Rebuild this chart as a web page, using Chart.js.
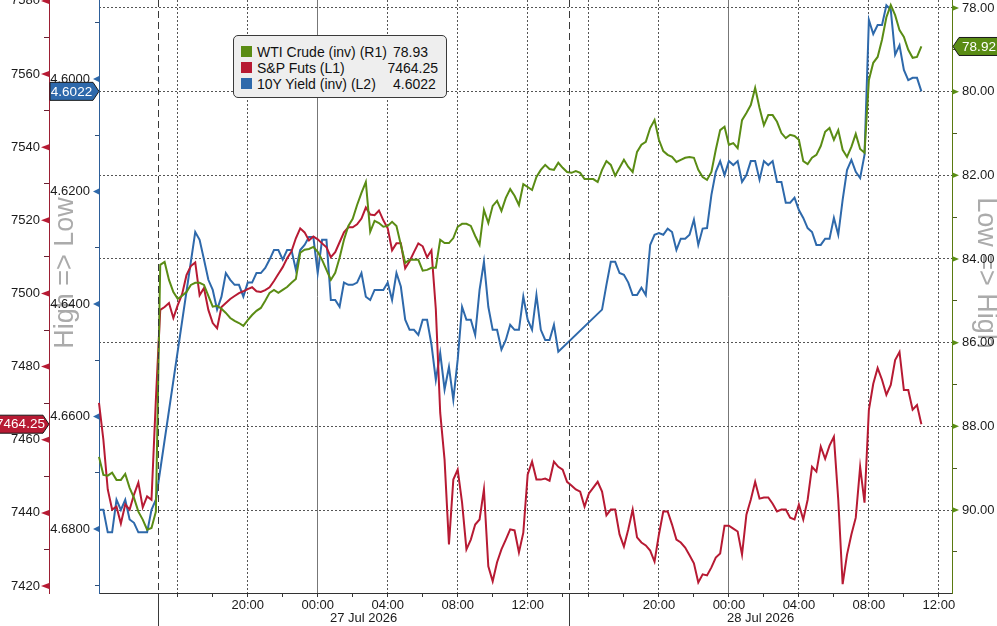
<!DOCTYPE html>
<html>
<head>
<meta charset="utf-8">
<title>WTI, S&amp;P futures and 10Y yield</title>
<script src="https://cdn.jsdelivr.net/npm/chart.js@4.4.1/dist/chart.umd.min.js"></script>
<style>
  html, body { margin: 0; padding: 0; background: #fff; overflow: hidden; }
  #wrap { position: relative; width: 997px; height: 626px; }
  #legend {
    position: absolute; left: 233px; top: 35px; width: 214px; height: 63px;
    box-sizing: border-box; background: #eeeeee; border: 1px solid #3a3a3a; border-radius: 5px;
    font-family: "Liberation Sans", Arial, sans-serif; font-size: 14px; color: #111;
  }
  #legend .row { position: absolute; left: 0; right: 0; height: 16px; line-height: 16px; }
  #legend .sq { position: absolute; left: 7px; top: 2px; width: 11px; height: 11px; }
  #legend .name { position: absolute; left: 23px; }
  #legend .val { position: absolute; }
</style>
</head>
<body>
<div id="wrap">
  <canvas id="chart" width="997" height="626"></canvas>
  <div id="legend"></div>
</div>
<script>
// trading sessions, 15 minute slots (UTC labels used as exchange clock)
const sessions = [
  ["2026-07-24T11:00Z", "2026-07-24T14:15Z"],
  ["2026-07-26T15:00Z", "2026-07-27T14:15Z"],
  ["2026-07-27T15:00Z", "2026-07-28T12:45Z"]
];

const seriesNames = ["WTI Crude (inv) (R1)", "S&P Futs (L1)", "10Y Yield (inv) (L2)"];
const legendLast = ["78.93", "7464.25", "4.6022"];

// WTI crude, one value per slot
const wti = [
  88.73, 89.16, 89.18, 89.11, 89.28, 89.28, 89.14, 89.47, 89.71, 90.04, 90.23, 90.47, 90.43, 90.04,
  84.14, 84.07, 84.50, 84.79, 84.95, 84.88, 84.79, 84.62, 84.57, 84.57,
  84.62, 84.88, 85.14, 85.12, 85.19, 85.29, 85.41, 85.48, 85.53, 85.60,
  85.46, 85.34, 85.24, 85.17, 85.00, 84.81, 84.74, 84.81, 84.74, 84.67,
  84.57, 84.48, 83.85, 83.78, 83.76, 83.71, 83.83, 84.02, 84.26, 84.50,
  84.33, 83.97, 83.54, 83.21, 83.04, 82.71, 82.42, 82.16, 83.35, 83.09,
  83.14, 83.23, 83.21, 83.11, 83.21, 83.66, 84.09, 84.02, 84.02, 84.02,
  84.28, 84.26, 84.21, 84.21, 83.54, 83.62, 83.62, 83.50, 83.23, 83.16,
  83.16, 83.21, 83.45, 83.66, 82.83, 83.14, 82.73, 82.61, 82.85, 82.54,
  82.33, 82.49, 82.71, 82.21, 82.28, 82.35, 82.04, 81.87, 81.75, 81.85,
  81.87, 81.70, 81.82, 81.92,
  81.94, 81.90, 81.94, 82.09, 82.09, 82.09, 82.16, 81.87, 81.66, 81.75,
  82.01, 81.82, 81.63, 81.80, 81.92, 81.44, 81.27, 81.20, 80.87, 80.68,
  81.15, 81.42, 81.51, 81.56, 81.68, 81.63, 81.58, 81.56, 81.58, 81.87,
  82.04, 82.11, 81.92, 81.39, 80.92, 80.84, 81.27, 81.23, 81.35, 80.68,
  80.51, 80.32, 79.91, 80.39, 80.80, 80.56, 80.56, 80.72, 80.99, 81.11,
  81.03, 81.06, 81.15, 81.66, 81.73, 81.58, 81.51, 81.30, 80.96, 80.87,
  81.15, 80.92, 81.39, 81.56, 81.32, 81.01, 81.37, 81.46, 79.72, 79.31,
  79.17, 78.76, 78.22, 77.93, 78.17, 78.53, 78.69, 79.00, 79.19, 79.17, 78.92
];

// S&P futures
const spx = [
  7470.1, 7460.0, 7446.4, 7440.9, 7441.7, 7437.1, 7442.3, 7440.9, 7445.0, 7448.3, 7441.5, 7444.5, 7443.6, 7470.9,
  7495.5, 7496.3, 7497.4, 7493.3, 7496.8, 7499.8, 7505.0, 7507.5, 7508.5, 7499.5,
  7501.5, 7495.5, 7491.9, 7490.5, 7496.3, 7497.4, 7498.5, 7499.3, 7500.1, 7500.6,
  7501.2, 7501.7, 7500.6, 7500.4, 7500.9, 7501.7, 7503.4, 7505.3, 7507.2, 7509.6,
  7511.5, 7515.1, 7517.8, 7516.7, 7514.5, 7515.6, 7514.8, 7513.7, 7512.6, 7509.9,
  7511.3, 7514.0, 7516.7, 7518.1, 7518.1, 7518.9, 7520.5, 7523.5, 7521.6, 7521.4,
  7522.7, 7520.0, 7517.8, 7511.8, 7513.7, 7513.7, 7506.9, 7508.8, 7511.3, 7513.7,
  7512.9, 7509.9, 7511.8, 7495.7, 7467.4, 7454.5, 7431.4, 7449.1, 7451.8, 7442.8,
  7430.0, 7432.7, 7436.8, 7438.2, 7446.4, 7425.4, 7421.3, 7426.5, 7430.0, 7432.7,
  7435.5, 7435.2, 7429.2, 7434.6, 7450.5, 7454.0, 7449.1, 7449.1, 7449.4, 7448.8,
  7454.0, 7452.6, 7451.8, 7448.5,
  7447.5, 7446.4, 7445.8, 7441.7, 7445.3, 7446.9, 7448.5, 7445.8, 7439.3, 7440.9,
  7440.9, 7434.1, 7430.8, 7435.5, 7440.9, 7433.3, 7431.9, 7431.1, 7429.7, 7426.7,
  7434.1, 7440.4, 7440.4, 7436.8, 7432.7, 7431.9, 7430.5, 7428.4, 7426.2, 7421.0,
  7423.2, 7422.9, 7425.1, 7427.8, 7428.9, 7436.5, 7436.5, 7435.7, 7434.9, 7428.6,
  7439.5, 7443.6, 7448.5, 7443.9, 7444.2, 7444.2, 7442.5, 7440.4, 7440.9, 7440.9,
  7438.7, 7438.2, 7442.3, 7438.2, 7443.6, 7452.6, 7451.3, 7458.1, 7454.8, 7458.4,
  7460.8, 7443.6, 7420.5, 7428.6, 7434.1, 7438.7, 7452.6, 7442.8, 7468.2, 7475.3,
  7479.6, 7476.4, 7472.3, 7475.0, 7481.8, 7484.0, 7473.6, 7473.6, 7468.2, 7469.5, 7464.25
];

// US 10Y yield (null = no print in that slot)
const yld = [
  4.6766, 4.6766, 4.6806, 4.6806, 4.6748, 4.6766, 4.6748, 4.6783, 4.6789, 4.6806, 4.6806, 4.6806, 4.6766, 4.6748,
  null, null, null, null, null, null, null, null,
  4.6272, 4.6286, 4.6321, 4.6357, 4.6375, 4.6410, 4.6387, 4.6345, 4.6357, 4.6366,
  4.6366, 4.6387, 4.6362, 4.6362, 4.6345, 4.6345, 4.6336, 4.6321, 4.6304, 4.6304,
  4.6321, 4.6304, 4.6304, 4.6339, 4.6304, 4.6295, 4.6281, 4.6281, 4.6345, 4.6286,
  4.6286, 4.6393, 4.6393, 4.6405, 4.6362, 4.6366, 4.6366, 4.6362, 4.6345, 4.6387,
  4.6393, 4.6375, 4.6375, 4.6375, 4.6362, 4.6393, 4.6345, 4.6369, 4.6428, 4.6446,
  4.6446, 4.6455, 4.6428, 4.6428, 4.6472, 4.6535, 4.6487, 4.6552, 4.6512, 4.6570,
  4.6499, 4.6405, 4.6428, 4.6428, 4.6455, 4.6375, 4.6325, 4.6405, 4.6446, 4.6446,
  4.6481, 4.6464, 4.6437, 4.6446, 4.6446, 4.6387, 4.6428, 4.6446, 4.6384, 4.6446,
  4.6464, 4.6464, 4.6437, 4.6485,
  null, null, null, null, null, null, null, null, null,
  4.6410, 4.6366, 4.6325, 4.6325, 4.6345, 4.6348, 4.6362, 4.6384, 4.6384, 4.6371,
  4.6384, 4.6295, 4.6277, 4.6274, 4.6277, 4.6266, 4.6272, 4.6304, 4.6284, 4.6284,
  4.6277, 4.6250, 4.6295, 4.6266, 4.6265, 4.6206, 4.6165, 4.6146, 4.6171, 4.6146,
  4.6153, 4.6146, 4.6183, 4.6171, 4.6146, 4.6146, 4.6179, 4.6146, 4.6153, 4.6146,
  4.6183, 4.6183, 4.6220, 4.6220, 4.6211, 4.6233, 4.6247, 4.6265, 4.6272, 4.6295,
  4.6295, 4.6284, 4.6284, 4.6247, 4.6277, 4.6215, 4.6162, 4.6144, 4.6165, 4.6176,
  4.6135, 4.5895, 4.5920, 4.5904, 4.5904, 4.5869, 4.5877, 4.5957, 4.5940, 4.5984,
  4.6002, 4.5998, 4.5998, 4.6022
];

const GREEN = "#5a8c14";
const RED = "#b71a33";
const BLUE = "#2e69ab";
const FONT = '"Liberation Sans", Arial, sans-serif';

// build the slot axis
const slotTimes = [];
const slotSession = [];
sessions.forEach((s, k) => {
  for (let t = Date.parse(s[0]); t <= Date.parse(s[1]); t += 15 * 60000) {
    slotTimes.push(new Date(t));
    slotSession.push(k);
  }
});
const pad = n => String(n).padStart(2, "0");
const slotLabels = slotTimes.map(d => pad(d.getUTCHours()) + ":" + pad(d.getUTCMinutes()));
const hourOf = i => slotTimes[i].getUTCHours();
const onHour = i => slotTimes[i].getUTCMinutes() === 0;

const breaks = [];
for (let i = 1; i < slotSession.length; i++) {
  if (slotSession[i] !== slotSession[i - 1]) breaks.push(i - 0.5);
}
const MONTHS = ["Jan", "Feb", "Mar", "Apr", "May", "Jun", "Jul", "Aug", "Sep", "Oct", "Nov", "Dec"];
const sessionDates = sessions.map(s => {
  const d = new Date(Date.parse(s[1]));
  return d.getUTCDate() + " " + MONTHS[d.getUTCMonth()] + " " + d.getUTCFullYear();
});

// legend
const legendEl = document.getElementById("legend");
[GREEN, RED, BLUE].forEach((c, i) => {
  const row = document.createElement("div");
  row.className = "row";
  row.style.top = (8 + i * 16) + "px";
  const sq = document.createElement("div");
  sq.className = "sq";
  sq.style.background = c;
  const name = document.createElement("span");
  name.className = "name";
  name.textContent = seriesNames[i];
  const val = document.createElement("span");
  val.className = "val";
  val.textContent = legendLast[i];
  if (i === 1) val.style.right = "8px"; else val.style.left = "159px";
  row.append(sq, name, val);
  legendEl.appendChild(row);
});

const isMajor = {
  ySpx: v => Math.round(v) % 20 === 0,
  yYld: v => Math.round(v * 100) % 2 === 0,
  yWti: v => Math.round(v) % 2 === 0
};

function lastValue(arr) {
  for (let i = arr.length - 1; i >= 0; i--) if (arr[i] != null) return arr[i];
  return null;
}

function tag(ctx, x0, x1, y, pointRight, color, text) {
  const h = 9;
  ctx.fillStyle = color;
  ctx.strokeStyle = "#1a1a1a";
  ctx.lineWidth = 1;
  ctx.beginPath();
  if (pointRight) {
    ctx.moveTo(x0, y - h); ctx.lineTo(x1 - 6, y - h); ctx.lineTo(x1, y);
    ctx.lineTo(x1 - 6, y + h); ctx.lineTo(x0, y + h);
  } else {
    ctx.moveTo(x1, y - h); ctx.lineTo(x0 + 6, y - h); ctx.lineTo(x0, y);
    ctx.lineTo(x0 + 6, y + h); ctx.lineTo(x1, y + h);
  }
  ctx.closePath();
  ctx.fill();
  ctx.stroke();
  ctx.fillStyle = "#fff";
  ctx.font = "13.5px " + FONT;
  ctx.textBaseline = "middle";
  ctx.textAlign = "center";
  ctx.fillText(text, pointRight ? (x0 + x1 - 6) / 2 : (x0 + x1 + 6) / 2, y + 0.5);
}

function sideLabel(ctx, text, cx, cy, angle) {
  ctx.save();
  ctx.fillStyle = "#ababab";
  ctx.font = "27px " + FONT;
  ctx.textAlign = "center";
  ctx.textBaseline = "middle";
  ctx.translate(cx, cy);
  ctx.rotate(angle);
  ctx.fillText(text, 0, 0);
  ctx.restore();
}

const decor = {
  id: "decor",
  beforeDraw(chart) {
    sideLabel(chart.ctx, "High => Low", 66, 273, -Math.PI / 2);
    sideLabel(chart.ctx, "Low => High", 985, 273, Math.PI / 2);
  },
  afterDraw(chart) {
    const { ctx, chartArea: a, scales } = chart;
    const x = scales.x;
    ctx.save();

    // session breaks
    ctx.strokeStyle = "#3a3a3a";
    ctx.lineWidth = 1;
    breaks.forEach(b => {
      const px = Math.round(x.getPixelForValue(b)) + 0.5;
      ctx.setLineDash([7, 4]);
      ctx.beginPath(); ctx.moveTo(px, a.top); ctx.lineTo(px, a.bottom); ctx.stroke();
      ctx.setLineDash([]);
      ctx.beginPath(); ctx.moveTo(px, a.bottom); ctx.lineTo(px, chart.height); ctx.stroke();
    });

    // date labels centred on each full session
    ctx.fillStyle = "#1a1a1a";
    ctx.font = "13px " + FONT;
    ctx.textAlign = "center";
    ctx.textBaseline = "middle";
    const edges = [-0.5].concat(breaks, [slotLabels.length - 1]);
    for (let k = 0; k < sessions.length; k++) {
      const l = x.getPixelForValue(Math.max(edges[k], 0));
      const r = x.getPixelForValue(edges[k + 1]);
      if (r - l > 150) ctx.fillText(sessionDates[k], (l + r) / 2, 618);
    }

    // axis markers for labelled ticks
    const marks = [["ySpx", RED, -1, 8], ["yYld", BLUE, -1, 6], ["yWti", GREEN, 1, 7]];
    marks.forEach(([id, color, dir, len]) => {
      const s = scales[id];
      const ax = dir < 0 ? s.right : s.left;
      ctx.fillStyle = color;
      s.ticks.forEach(t => {
        if (!isMajor[id](t.value)) return;
        const py = s.getPixelForValue(t.value);
        ctx.beginPath();
        ctx.moveTo(ax, py - 3); ctx.lineTo(ax, py + 3); ctx.lineTo(ax + dir * len, py);
        ctx.closePath(); ctx.fill();
      });
    });

    // last value tags
    const sy = scales.ySpx, yy = scales.yYld, sw = scales.yWti;
    const lw = lastValue(wti), ls = lastValue(spx), ly = lastValue(yld);
    tag(ctx, yy.left + 1, yy.right, yy.getPixelForValue(ly), true, BLUE, ly.toFixed(4));
    tag(ctx, sy.left - 2, sy.right, sy.getPixelForValue(ls), true, RED, ls.toFixed(2));
    tag(ctx, sw.left + 1, chart.width + 2, sw.getPixelForValue(lw), false, GREEN, lw.toFixed(2));
    ctx.restore();
  }
};

Chart.defaults.font.family = FONT;
Chart.defaults.font.size = 13;
Chart.defaults.color = "#1a1a1a";

new Chart(document.getElementById("chart"), {
  type: "line",
  data: {
    labels: slotLabels,
    datasets: [
      { label: seriesNames[0], data: wti, yAxisID: "yWti", borderColor: GREEN, borderWidth: 2 },
      { label: seriesNames[1], data: spx, yAxisID: "ySpx", borderColor: RED, borderWidth: 2 },
      { label: seriesNames[2], data: yld, yAxisID: "yYld", borderColor: BLUE, borderWidth: 2, spanGaps: true }
    ]
  },
  options: {
    responsive: false,
    animation: false,
    layout: { padding: 0 },
    elements: { point: { radius: 0 }, line: { tension: 0 } },
    plugins: { legend: { display: false }, tooltip: { enabled: false } },
    scales: {
      x: {
        type: "category",
        offset: false,
        afterBuildTicks(scale) {
          scale.ticks = scale.ticks.filter(t => slotSession[t.value] > 0 && onHour(t.value) && hourOf(t.value) % 2 === 0);
        },
        afterFit(scale) {
          scale.height = 33;
          scale.paddingLeft = 0;
          scale.paddingRight = 0;
        },
        border: {
          color: "#333",
          dash: c => (c.tick && hourOf(c.tick.value) === 0 ? [] : [2, 2])
        },
        grid: {
          color: c => {
            if (!c.tick) return "transparent";
            const h = hourOf(c.tick.value);
            if (h === 0) return "#777";
            return h % 4 === 0 ? "#555" : "transparent";
          },
          tickColor: "#333",
          tickLength: 4
        },
        ticks: {
          autoSkip: false,
          maxRotation: 0,
          padding: 1,
          callback: v => {
            const h = hourOf(v);
            return h % 4 === 0 && h !== 16 ? slotLabels[v] : "";
          }
        }
      },
      ySpx: {
        position: "left",
        weight: 1,
        min: 7418.09,
        max: 7580.25,
        afterFit(s) { s.width = 49; s.paddingTop = 0; s.paddingBottom = 0; },
        border: { color: "#9c1f33" },
        grid: {
          drawOnChartArea: false,
          tickLength: 5,
          tickColor: c => (c.tick && !isMajor.ySpx(c.tick.value) ? "#6a2030" : "transparent")
        },
        ticks: {
          stepSize: 10,
          includeBounds: false,
          padding: 4,
          callback: v => (isMajor.ySpx(v) ? String(Math.round(v)) : "")
        }
      },
      yYld: {
        position: "left",
        weight: 0,
        reverse: true,
        min: 4.58596,
        max: 4.69138,
        afterFit(s) { s.width = 50; s.paddingTop = 0; s.paddingBottom = 0; },
        border: { color: "#2d5f9a" },
        grid: {
          drawOnChartArea: false,
          tickLength: 4,
          tickColor: c => (c.tick && !isMajor.yYld(c.tick.value) ? "#2d4f7a" : "transparent")
        },
        ticks: {
          stepSize: 0.01,
          includeBounds: false,
          padding: 5,
          callback: v => (isMajor.yYld(v) ? v.toFixed(4) : "")
        }
      },
      yWti: {
        position: "right",
        reverse: true,
        min: 77.809,
        max: 91.984,
        afterFit(s) { s.width = 45; s.paddingTop = 0; s.paddingBottom = 0; },
        border: { color: "#5a7a10", dash: [2, 2] },
        grid: {
          color: c => (c.tick && isMajor.yWti(c.tick.value) ? "#555" : "transparent"),
          tickLength: 5,
          tickColor: c => (c.tick && !isMajor.yWti(c.tick.value) ? "#4a5a20" : "transparent")
        },
        ticks: {
          stepSize: 1,
          includeBounds: false,
          padding: 5,
          callback: v => (isMajor.yWti(v) ? v.toFixed(2) : "")
        }
      }
    }
  },
  plugins: [decor]
});
</script>
</body>
</html>
